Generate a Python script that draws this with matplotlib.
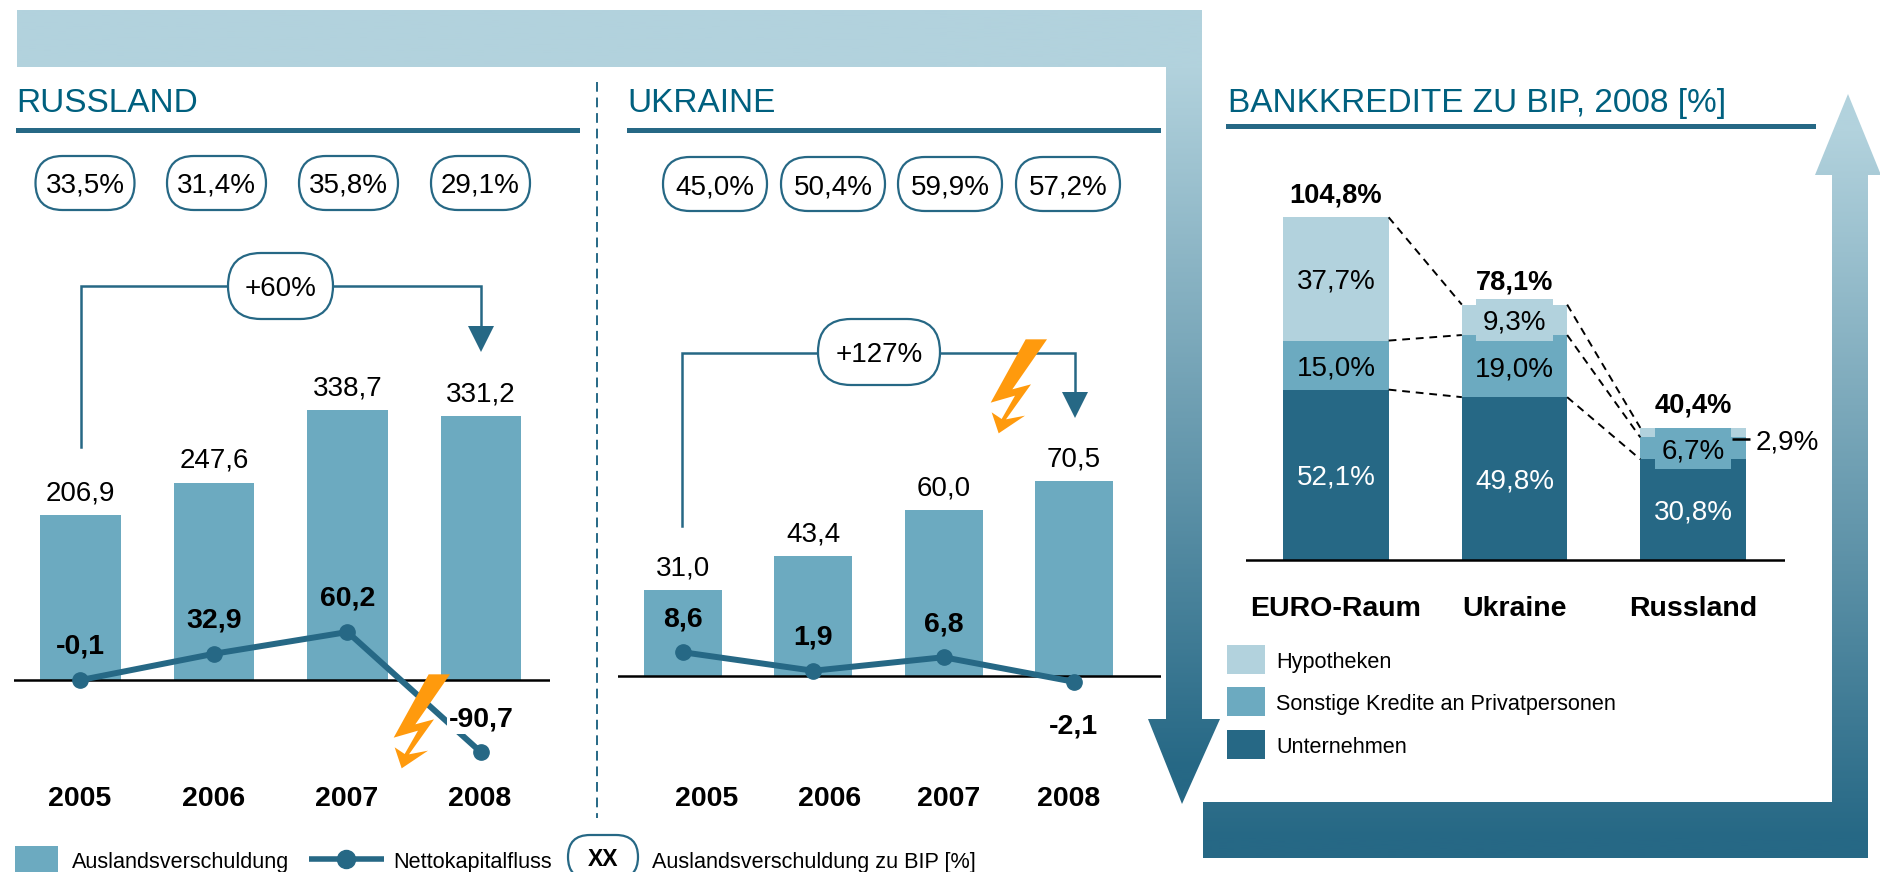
# plot.py - Auslandsverschuldung Russland / Ukraine und Bankkredite zu BIP
import numpy as np
import matplotlib
matplotlib.use("Agg")
import matplotlib.pyplot as plt
from matplotlib.colors import LinearSegmentedColormap
from matplotlib.patches import FancyBboxPatch, Polygon, Rectangle

plt.rcParams["font.family"] = ["Liberation Sans", "DejaVu Sans"]

# --- data ---
years = ["2005", "2006", "2007", "2008"]

ru_debt = [206.9, 247.6, 338.7, 331.2]
ru_flow = [-0.1, 32.9, 60.2, -90.7]
ru_gdp = ["33,5%", "31,4%", "35,8%", "29,1%"]
ru_change = "+60%"

ua_debt = [31.0, 43.4, 60.0, 70.5]
ua_flow = [8.6, 1.9, 6.8, -2.1]
ua_gdp = ["45,0%", "50,4%", "59,9%", "57,2%"]
ua_change = "+127%"

credit_regions = ["EURO-Raum", "Ukraine", "Russland"]
credit_firms = [52.1, 49.8, 30.8]
credit_private = [15.0, 19.0, 6.7]
credit_mortgage = [37.7, 9.3, 2.9]
credit_total = [104.8, 78.1, 40.4]

credit_legend = ["Hypotheken", "Sonstige Kredite an Privatpersonen", "Unternehmen"]

# --- style ---
W, H = 1881, 872
LIGHT = "#b2d2dd"
MID = "#6caac0"
DARK = "#266885"
TITLE = "#00607f"
VA = "center_baseline"

fig = plt.figure(figsize=(W / 100, H / 100), dpi=100, facecolor="white")


def de(v):
    return f"{v:.1f}".replace(".", ",")


def chart_axes(x0, x1, top, bottom, first, step, base, scale):
    # axes placed in pixels, x in category index, y in data units
    ax = fig.add_axes([x0 / W, 1 - bottom / H, (x1 - x0) / W, (bottom - top) / H])
    ax.set_xlim((x0 - first) / step, (x1 - first) / step)
    ax.set_ylim((base - bottom) / scale, (base - top) / scale)
    ax.axis("off")
    ax.patch.set_alpha(0)
    return ax


# background layer with the two big arrows
bg = fig.add_axes([0, 0, 1, 1], zorder=0)
bg.set_xlim(0, W)
bg.set_ylim(H, 0)
bg.axis("off")

grad = LinearSegmentedColormap.from_list("g", [LIGHT, DARK])


def gradient_arrow(points, y0, y1):
    shape = Polygon(points, closed=True, transform=bg.transData, facecolor="none", edgecolor="none")
    bg.add_patch(shape)
    img = np.clip((np.linspace(0, H, 400) - y0) / (y1 - y0), 0, 1).reshape(-1, 1)
    im = bg.imshow(img, extent=[0, W, H, 0], cmap=grad, vmin=0, vmax=1, aspect="auto")
    im.set_clip_path(shape)


gradient_arrow([(17, 10), (1202, 10), (1202, 719), (1220, 719), (1182, 804), (1148, 719),
                (1166, 719), (1166, 67), (17, 67)], 67, 770)
gradient_arrow([(1203, 802), (1832, 802), (1832, 175), (1815, 175), (1848, 94), (1881, 175),
                (1868, 175), (1868, 858), (1203, 858)], 130, 840)
bg.set_xlim(0, W)
bg.set_ylim(H, 0)


def debt_chart(ax, debt, flow):
    xs = np.arange(len(debt))
    ax.bar(xs, debt, width=0.6, color=MID, zorder=1)
    ax.axhline(0, color="black", lw=1.8, zorder=2)
    ax.plot(xs, flow, color=DARK, lw=4.3, marker="o", ms=11, zorder=3)
    for i, v in enumerate(debt):
        ax.annotate(de(v), (i, v), xytext=(0, 18), textcoords="offset points",
                    ha="center", va=VA, fontsize=20, color="black", zorder=5)
    for i, v in enumerate(flow):
        # the small negative value sits below its marker, all others above
        off = -30 if -50 < v < -1 else 26
        box = dict(facecolor="white", edgecolor="none", pad=1) if v < -50 else None
        ax.annotate(de(v), (i, v), xytext=(0, off), textcoords="offset points",
                    ha="center", va=VA, fontsize=20.5, fontweight="bold",
                    color="black", zorder=5, bbox=box)


ax_ru = chart_axes(14, 550, 380, 780, 80.5, 133.5, 680, 0.797)
debt_chart(ax_ru, ru_debt, ru_flow)

ax_ua = chart_axes(618, 1161, 450, 780, 683, 130.3, 676, 2.76)
debt_chart(ax_ua, ua_debt, ua_flow)

# stacked credit chart
ax_cr = chart_axes(1246, 1785, 190, 600, 1336, 178.5, 560, 3.27)
xs = np.arange(len(credit_regions))
firms = np.array(credit_firms)
private = np.array(credit_private)
mortgage = np.array(credit_mortgage)
bar_w = 0.59
ax_cr.bar(xs, firms, width=bar_w, color=DARK, zorder=1)
ax_cr.bar(xs, private, bottom=firms, width=bar_w, color=MID, zorder=1)
ax_cr.bar(xs, mortgage, bottom=firms + private, width=bar_w, color=LIGHT, zorder=1)
ax_cr.axhline(0, color="black", lw=1.8, zorder=2)

for level in (firms, firms + private, firms + private + mortgage):
    for i in range(len(xs) - 1):
        ax_cr.plot([i + bar_w / 2, i + 1 - bar_w / 2], [level[i], level[i + 1]],
                   color="black", lw=1.4, ls=(0, (4, 3)), zorder=2)

# label patches that stick out of the thin segments
ax_cr.add_patch(Rectangle((1 - 0.215, firms[1] + private[1] - 1.8), 0.43, mortgage[1] + 3.6,
                          color=LIGHT, lw=0, zorder=2))
ax_cr.add_patch(Rectangle((2 - 0.215, firms[2] - 3), 0.43, private[2] + 5.9,
                          color=MID, lw=0, zorder=2))

for i in xs:
    ax_cr.text(i, firms[i] / 2, de(firms[i]) + "%", ha="center", va=VA,
               fontsize=20, color="white", zorder=5)
    ax_cr.text(i, firms[i] + private[i] / 2, de(private[i]) + "%", ha="center", va=VA,
               fontsize=20, color="black", zorder=5)
    ax_cr.annotate(de(credit_total[i]) + "%", (i, firms[i] + private[i] + mortgage[i]),
                   xytext=(0, 18), textcoords="offset points", ha="center", va=VA,
                   fontsize=19.6, fontweight="bold", color="black", zorder=5)
    if i < 2:
        ax_cr.text(i, firms[i] + private[i] + mortgage[i] / 2, de(mortgage[i]) + "%",
                   ha="center", va=VA, fontsize=20, color="black", zorder=5)

ax_cr.plot([2.22, 2.32], [firms[2] + private[2] - 0.6] * 2, color="black", lw=1.8,
           solid_capstyle="butt", zorder=5, clip_on=False)
ax_cr.annotate(de(mortgage[2]) + "%", (2.32, firms[2] + private[2] - 0.6), xytext=(4, 0),
               textcoords="offset points", ha="left", va=VA, fontsize=20, color="black")

# overlay in pixels: titles, pills, lightning, legends
top = fig.add_axes([0, 0, 1, 1], zorder=10)
top.set_xlim(0, W)
top.set_ylim(H, 0)
top.axis("off")
top.patch.set_alpha(0)


def rule(x0, x1, y):
    top.add_patch(Rectangle((x0, y), x1 - x0, 5, color=DARK, lw=0))


def pill(xc, yc, w, h, label, size=20, weight="normal"):
    top.add_patch(FancyBboxPatch((xc - w / 2, yc - h / 2), w, h,
                                 boxstyle=f"round,pad=0,rounding_size={h * 0.5}",
                                 facecolor="white", edgecolor=DARK, lw=1.6, zorder=4))
    top.text(xc, yc, label, ha="center", va=VA, fontsize=size, fontweight=weight,
             color="black", zorder=5)


def bracket(x_left, y_start, y_line, x_right, y_arrow, tip):
    top.plot([x_left, x_left, x_right, x_right], [y_start, y_line, y_line, y_arrow],
             color=DARK, lw=1.8, solid_joinstyle="miter", zorder=3)
    top.add_patch(Polygon([(x_right - 13, y_arrow), (x_right + 13, y_arrow), (x_right, tip)],
                          closed=True, color=DARK, lw=0, zorder=3))


for label, x, y in [("RUSSLAND", 16, 100), ("UKRAINE", 627, 100), ("BANKKREDITE ZU BIP, 2008 [%]", 1228, 100)]:
    top.text(x, y, label, ha="left", va=VA, fontsize=24, color=TITLE)
rule(16, 580, 128)
rule(627, 1161, 128)
rule(1226, 1816, 124)

top.plot([597, 597], [82, 818], color=DARK, lw=1.4, ls=(0, (5, 3)))

for xc, label in zip([85, 216.5, 348.5, 480.5], ru_gdp):
    pill(xc, 183, 99, 54, label)
for xc, label in zip([715, 833, 950, 1068], ua_gdp):
    pill(xc, 184, 104, 54, label)

bracket(81, 447, 286, 481, 326, 352)
pill(280.5, 286, 105, 66, ru_change)
bracket(682, 526, 353, 1075, 392, 418)
pill(879, 352, 122, 66, ua_change)

for xc, label in zip([80, 214, 347, 480], years):
    top.text(xc, 796, label, ha="center", va=VA, fontsize=20.5, fontweight="bold")
for xc, label in zip([707, 830, 949, 1069], years):
    top.text(xc, 796, label, ha="center", va=VA, fontsize=20.5, fontweight="bold")
for xc, label in zip([1336, 1515, 1693], credit_regions):
    top.text(xc, 606, label, ha="center", va=VA, fontsize=20.5, fontweight="bold")

# lightning outline, traced once and placed twice
bolt = np.array([(377, 118), (441, 118), (337, 268), (393, 253), (318, 358), (375, 347), (296, 400),
                 (275, 337), (305, 357), (345, 287), (272, 308)], dtype=float) / 3
for dx, dy in [(900, 300), (303, 635)]:
    top.add_patch(Polygon(bolt + (dx, dy), closed=True, color="#ff9a0d", lw=0, zorder=6))

# legends
top.add_patch(Rectangle((15, 846), 43, 40, color=MID, lw=0))
top.text(72, 860, "Auslandsverschuldung", ha="left", va=VA, fontsize=15.6)
top.plot([309, 384], [859, 859], color=DARK, lw=4, solid_capstyle="butt")
top.plot([346], [859], marker="o", ms=13, color=DARK)
top.text(393, 860, "Nettokapitalfluss", ha="left", va=VA, fontsize=15.6)
pill(603, 857, 70, 44, "XX", size=16.5, weight="bold")
top.text(652, 860, "Auslandsverschuldung zu BIP [%]", ha="left", va=VA, fontsize=15.6)

for (y, color), label in zip([(645, LIGHT), (687, MID), (730, DARK)], credit_legend):
    top.add_patch(Rectangle((1227, y), 38, 29, color=color, lw=0))
    top.text(1276, y + 15, label, ha="left", va=VA, fontsize=15.6)

fig.savefig("out.png", dpi=100)
